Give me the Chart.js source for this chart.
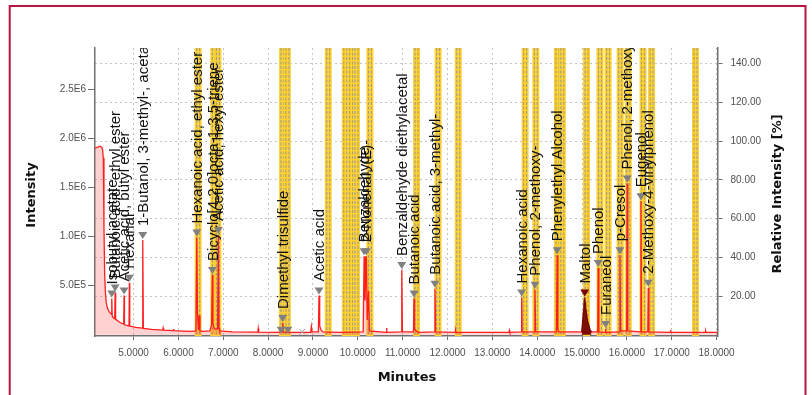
<!DOCTYPE html>
<html>
<head>
<meta charset="utf-8">
<script src="https://cdn.jsdelivr.net/npm/chart.js@4/dist/chart.umd.min.js"></script>
<style>
html, body { margin: 0; padding: 0; background: #fff; }
canvas { display: block; }
</style>
</head>
<body>
<canvas id="chrom" width="812" height="395"></canvas>
<script>
// chromatogram trace, minutes vs intensity (in units of 1E6)
const traceTimes = [4.14, 4.20, 4.25, 4.29, 4.31, 4.325, 4.34, 4.355, 4.37, 4.39, 4.42, 4.46, 4.505, 4.514, 4.524, 4.56, 4.58, 4.589, 4.60, 4.65,
    4.70, 4.75, 4.78, 4.788, 4.797, 4.85, 4.898, 4.906, 4.915, 4.95, 5.05, 5.195, 5.205, 5.218, 5.40, 5.65, 5.66, 5.67, 5.88, 5.89,
    5.90, 6.10, 6.30, 6.39, 6.41, 6.425, 6.45, 6.465, 6.48, 6.55, 6.70, 6.74, 6.757, 6.77, 6.80, 6.875, 6.89, 6.905, 6.92, 7.20,
    7.77, 7.78, 7.79, 8.20, 8.31, 8.326, 8.34, 8.40, 8.41, 8.42, 8.95, 8.965, 8.98, 9.12, 9.135, 9.15, 9.18, 9.22, 9.60, 10.12,
    10.14, 10.16, 10.19, 10.21, 10.24, 10.26, 10.63, 10.64, 10.65, 10.97, 10.98, 10.995, 11.24, 11.253, 11.265, 11.30, 11.35, 11.71, 11.72, 11.735,
    12.17, 12.18, 12.19, 13.37, 13.38, 13.39, 13.64, 13.653, 13.665, 13.94, 13.95, 13.965, 14.43, 14.445, 14.46, 14.48, 15.35, 15.36, 15.375, 15.52,
    15.525, 15.535, 15.83, 15.845, 15.86, 15.995, 16.007, 16.02, 16.30, 16.313, 16.325, 16.465, 16.475, 16.49, 16.97, 16.975, 16.98, 17.745, 17.755, 17.765,
    18.02];
const traceIntensity = [1.90, 1.91, 1.92, 1.91, 1.88, 1.80, 1.10, 0.62, 0.45, 0.33, 0.27, 0.23, 0.21, 0.37, 0.19, 0.17, 0.165, 0.43, 0.16, 0.14,
    0.125, 0.115, 0.11, 0.40, 0.105, 0.095, 0.09, 0.53, 0.088, 0.085, 0.075, 0.068, 0.965, 0.066, 0.055, 0.048, 0.07, 0.047, 0.042, 0.06,
    0.042, 0.038, 0.035, 0.04, 0.99, 0.22, 0.05, 0.20, 0.04, 0.035, 0.04, 0.10, 0.61, 0.12, 0.06, 0.06, 1.015, 0.07, 0.04, 0.03,
    0.028, 0.065, 0.028, 0.025, 0.03, 0.12, 0.03, 0.026, 0.035, 0.026, 0.025, 0.085, 0.03, 0.03, 0.40, 0.09, 0.05, 0.03, 0.025, 0.03,
    0.80, 0.35, 0.80, 0.15, 0.45, 0.04, 0.025, 0.07, 0.025, 0.03, 0.66, 0.03, 0.03, 0.37, 0.06, 0.04, 0.025, 0.03, 0.47, 0.03,
    0.025, 0.045, 0.025, 0.025, 0.045, 0.025, 0.03, 0.38, 0.03, 0.03, 0.46, 0.03, 0.03, 0.81, 0.06, 0.03, 0.03, 0.68, 0.03, 0.025,
    0.06, 0.025, 0.03, 0.81, 0.04, 0.04, 1.54, 0.04, 0.03, 1.36, 0.03, 0.03, 0.48, 0.03, 0.025, 0.05, 0.025, 0.025, 0.04, 0.025,
    0.025];

// selected (maltol) peak
const maltolTimes = [14.99, 15.01, 15.03, 15.04, 15.05, 15.06, 15.07, 15.08, 15.10, 15.12, 15.15, 15.18, 15.21];
const maltolIntensity = [0.03, 0.12, 0.25, 0.30, 0.36, 0.38, 0.33, 0.28, 0.22, 0.15, 0.10, 0.05, 0.03];

// identified peaks
const peakNames = ["Isobutyl acetate", "Butanoic acid, ethyl ester", "Acetic acid, butyl ester", "Hexanal",
    "1-Butanol, 3-methyl-, acetate", "Hexanoic acid, ethyl ester", "Bicyclo[4.2.0]octa-1,3,5-triene", "Acetic acid, hexyl ester",
    "Dimethyl trisulfide", "Acetic acid", "Benzaldehyde", "2-Nonenal, (E)-", "Benzaldehyde diethylacetal", "Butanoic acid",
    "Butanoic acid, 3-methyl-", "Hexanoic acid", "Phenol, 2-methoxy-", "Phenylethyl Alcohol", "Maltol", "Phenol", "Furaneol",
    "p-Cresol", "Phenol, 2-methoxy-4-methyl-", "Eugenol", "2-Methoxy-4-vinylphenol"];
const peakTimes = [4.514, 4.589, 4.788, 4.906, 5.205, 6.41, 6.757, 6.89, 8.326, 9.135, 10.14, 10.19, 10.98, 11.253,
    11.72, 13.653, 13.95, 14.445, 15.06, 15.36, 15.525, 15.845, 16.007, 16.313, 16.475];
const peakHeights = [0.37, 0.43, 0.40, 0.53, 0.965, 0.99, 0.61, 1.015, 0.12, 0.40, 0.80, 0.80, 0.66, 0.37,
    0.47, 0.38, 0.46, 0.81, 0.38, 0.68, 0.06, 0.81, 1.54, 1.36, 0.48];

// unlabeled markers at the baseline and the highlighted label strips
const baseMarkerTimes = [8.29, 8.44];
const crossTimes = [8.76];
const bandTimes = [6.44, 6.79, 6.88, 8.32, 8.43, 9.34, 9.72, 9.85, 9.97, 10.27, 11.31, 11.79, 12.24, 13.73, 13.97,
    14.45, 14.56, 15.10, 15.40, 15.58, 15.85, 16.03, 16.36, 16.55, 17.53];

const xTicks = [5, 6, 7, 8, 9, 10, 11, 12, 13, 14, 15, 16, 17, 18];

const tickFont = { family: "'Liberation Sans', Arial, sans-serif", size: 10 };
const tickColor = "#505050";
const axisColor = "#707070";
const gridColor = "#c4c4c4";

const chromPlugin = {
    id: "chrom",
    beforeDatasetsDraw(chart) {
        const { ctx, chartArea: a, scales: { x } } = chart;
        ctx.save();
        ctx.beginPath(); ctx.rect(a.left, a.top, a.right - a.left, a.bottom - a.top); ctx.clip();
        bandTimes.forEach(t => {
            const cx = x.getPixelForValue(t);
            ctx.fillStyle = "#ffd230";
            ctx.fillRect(cx - 3.5, a.top, 7, a.bottom - a.top);
            ctx.strokeStyle = "rgba(150,150,150,0.85)";
            ctx.lineWidth = 1.2;
            ctx.setLineDash([3, 1.5]);
            [-1.5, 1.5].forEach(d => {
                ctx.beginPath(); ctx.moveTo(cx + d, a.top); ctx.lineTo(cx + d, a.bottom); ctx.stroke();
            });
        });
        ctx.restore();
    },
    afterDatasetsDraw(chart) {
        const { ctx, chartArea: a, scales: { x, y } } = chart;
        ctx.save();
        ctx.beginPath(); ctx.rect(a.left, a.top, a.right - a.left, a.bottom - a.top); ctx.clip();
        const tri = (px, py, color) => {
            ctx.fillStyle = color;
            ctx.beginPath();
            ctx.moveTo(px - 4.5, py - 8); ctx.lineTo(px + 4.5, py - 8); ctx.lineTo(px, py - 1);
            ctx.closePath(); ctx.fill();
        };
        ctx.font = "15px 'Liberation Sans', Arial, sans-serif";
        ctx.textAlign = "left";
        ctx.textBaseline = "middle";
        peakNames.forEach((name, i) => {
            const px = x.getPixelForValue(peakTimes[i]);
            const py = y.getPixelForValue(peakHeights[i]);
            tri(px, py, name === "Maltol" ? "#7a0000" : "#808080");
            ctx.save();
            ctx.translate(px + 1, py - 14);
            ctx.rotate(-Math.PI / 2);
            ctx.fillStyle = "#111";
            ctx.fillText(name, 0, 0);
            ctx.restore();
        });
        baseMarkerTimes.forEach(t => tri(x.getPixelForValue(t), y.getPixelForValue(0), "#808080"));
        ctx.strokeStyle = "#a0a0a0";
        ctx.lineWidth = 1;
        crossTimes.forEach(t => {
            const px = x.getPixelForValue(t), py = y.getPixelForValue(0) - 3;
            ctx.beginPath();
            ctx.moveTo(px - 3, py - 3); ctx.lineTo(px + 3, py + 3);
            ctx.moveTo(px + 3, py - 3); ctx.lineTo(px - 3, py + 3);
            ctx.stroke();
        });
        ctx.restore();
    },
    afterDraw(chart) {
        const { ctx } = chart;
        ctx.save();
        ctx.strokeStyle = "#b8163f";
        ctx.lineWidth = 2;
        ctx.strokeRect(9.7, 6, 795.8, 400);
        ctx.fillStyle = "#111";
        ctx.font = "bold 13px 'DejaVu Sans', Verdana, sans-serif";
        ctx.textAlign = "center";
        ctx.textBaseline = "middle";
        ctx.fillText("Minutes", 407, 378);
        [["Intensity", 32, 195], ["Relative Intensity [%]", 778, 194]].forEach(([txt, tx, ty]) => {
            ctx.save();
            ctx.translate(tx, ty);
            ctx.rotate(-Math.PI / 2);
            ctx.fillText(txt, 0, 0);
            ctx.restore();
        });
        ctx.restore();
    }
};

new Chart(document.getElementById("chrom"), {
    type: "line",
    data: {
        datasets: [
            {
                data: maltolTimes.map((t, i) => ({ x: t, y: maltolIntensity[i] })),
                borderColor: "#7a0000", backgroundColor: "rgba(115,0,0,0.92)", borderWidth: 1.2, fill: "origin", order: 0
            },
            {
                data: traceTimes.map((t, i) => ({ x: t, y: traceIntensity[i] })),
                borderColor: "#ff1e1e", backgroundColor: "rgba(255,70,70,0.25)", borderWidth: 1.3, fill: "origin", order: 1
            }
        ]
    },
    options: {
        responsive: false,
        animation: false,
        layout: { padding: { left: 10, right: 10, top: 48, bottom: 0 } },
        plugins: { legend: { display: false }, tooltip: { enabled: false } },
        elements: { point: { radius: 0 }, line: { tension: 0 } },
        scales: {
            x: {
                type: "linear", min: 4.14, max: 18.02,
                afterFit: s => { s.height = 59; },
                afterBuildTicks: s => { s.ticks = xTicks.map(v => ({ value: v })); },
                ticks: { autoSkip: false, maxRotation: 0, padding: 7, color: tickColor, font: tickFont, callback: v => v.toFixed(4) },
                grid: { color: gridColor, lineWidth: 1, tickLength: 4, tickColor: axisColor },
                border: { display: true, color: axisColor, width: 1.5, dash: [2, 3] }
            },
            y: {
                position: "left", min: -0.012, max: 2.92,
                afterFit: s => { s.width = 85; },
                afterBuildTicks: s => { s.ticks = s.ticks.filter(t => t.value > 0); },
                ticks: { stepSize: 0.5, includeBounds: false, padding: 2, color: tickColor, font: tickFont,
                    callback: v => (v * 1e6).toExponential(1).replace("e+", "E") },
                grid: { drawOnChartArea: false, tickLength: 7, tickColor: axisColor },
                border: { display: true, color: axisColor, width: 1.5 }
            },
            y2: {
                position: "right", min: -0.4, max: 147.9,
                afterFit: s => { s.width = 84.5; },
                afterBuildTicks: s => { s.ticks = s.ticks.filter(t => t.value > 0); },
                ticks: { stepSize: 20, includeBounds: false, padding: 8, color: tickColor, font: tickFont, callback: v => v.toFixed(2) },
                grid: { color: gridColor, lineWidth: 1, tickLength: 5, tickColor: axisColor },
                border: { display: true, color: axisColor, width: 1.5, dash: [2, 3] }
            }
        }
    },
    plugins: [chromPlugin]
});
</script>
</body>
</html>
